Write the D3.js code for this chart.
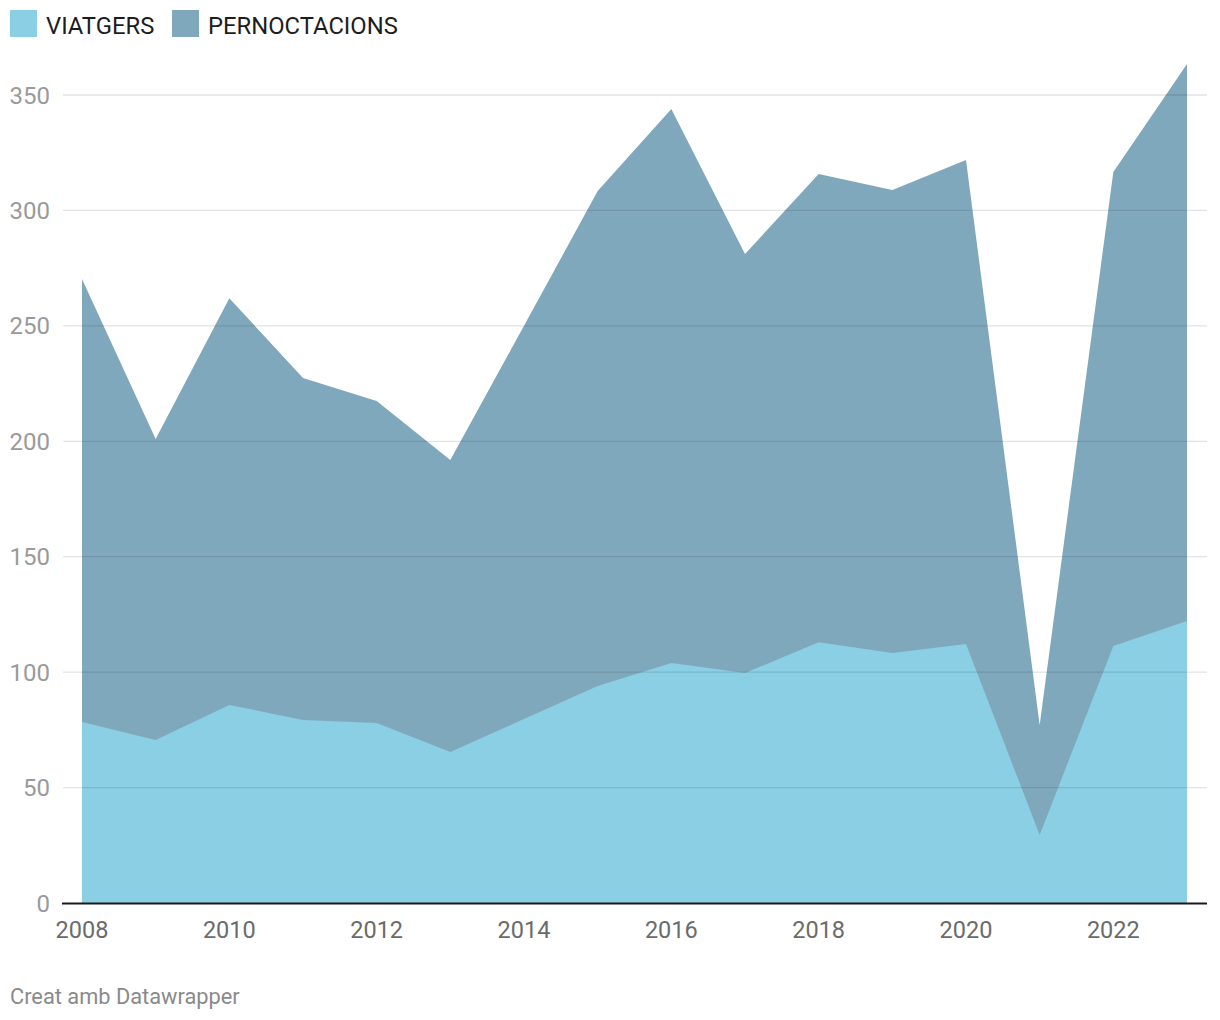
<!DOCTYPE html>
<html><head><meta charset="utf-8">
<script src="https://cdn.jsdelivr.net/npm/d3@7"></script>
<style>
html,body{margin:0;padding:0;background:#fff;}
svg{display:block;font-family:Roboto,"Noto Sans",sans-serif;}
</style></head>
<body>
<svg id="chart" width="1220" height="1020"></svg>
<script>
const years = [2008,2009,2010,2011,2012,2013,2014,2015,2016,2017,2018,2019,2020,2021,2022,2023];
const viatgers = [78.4,70.6,85.8,79.3,78.0,65.4,79.7,94.0,104.0,99.6,113.0,108.3,112.2,29.5,111.3,122.2];
const pernoctacions = [270.3,201.0,262.0,227.4,217.4,191.9,250.0,308.4,343.9,281.1,315.8,308.8,321.8,77.1,316.6,363.4];
const yTicks = [0,50,100,150,200,250,300,350];
const xTicks = [2008,2010,2012,2014,2016,2018,2020,2022];
const seriesNames = ["VIATGERS","PERNOCTACIONS"];
const seriesColors = ["#8acfe4","#80a8bc"];

const svg = d3.select("#chart");
const x = d3.scaleLinear().domain([2008,2023]).range([82,1187]);
const y = d3.scaleLinear().domain([0,350]).range([903,95]);

// areas
const area = vals => d3.area().x((d,i)=>x(years[i])).y0(y(0)).y1((d)=>y(d))(vals);
svg.append("path").attr("d", area(pernoctacions)).attr("fill", seriesColors[1]);
svg.append("path").attr("d", area(viatgers)).attr("fill", seriesColors[0]);

// gridlines
const grid = svg.append("g");
yTicks.filter(t=>t>0).forEach(t=>{
  grid.append("line").attr("x1",63).attr("x2",1207).attr("y1",y(t)).attr("y2",y(t))
    .attr("stroke","rgba(0,0,0,0.11)").attr("stroke-width",1.3);
});
// y labels
yTicks.forEach(t=>{
  svg.append("text").attr("x",50).attr("y",y(t)+8.5).attr("text-anchor","end")
    .attr("font-size",24).attr("fill","#9a9a9a").text(t);
});
// baseline
svg.append("line").attr("x1",62).attr("x2",1207).attr("y1",903.5).attr("y2",903.5)
  .attr("stroke","#1a1a1a").attr("stroke-width",2);
// x labels
xTicks.forEach(t=>{
  svg.append("text").attr("x",x(t)).attr("y",938).attr("text-anchor","middle")
    .attr("font-size",23.5).attr("fill","#6b6b6b").text(t);
});
// legend
const legX = [10,172];
seriesNames.forEach((n,i)=>{
  svg.append("rect").attr("x",legX[i]).attr("y",10).attr("width",27).attr("height",27).attr("fill",seriesColors[i]);
  svg.append("text").attr("x",legX[i]+36).attr("y",34).attr("font-size",23.8).attr("fill","#1d1d1d").text(n);
});
// footer
svg.append("text").attr("x",10).attr("y",1004).attr("font-size",21.8).attr("fill","#8a8a8a").text("Creat amb Datawrapper");
</script>
</body></html>
